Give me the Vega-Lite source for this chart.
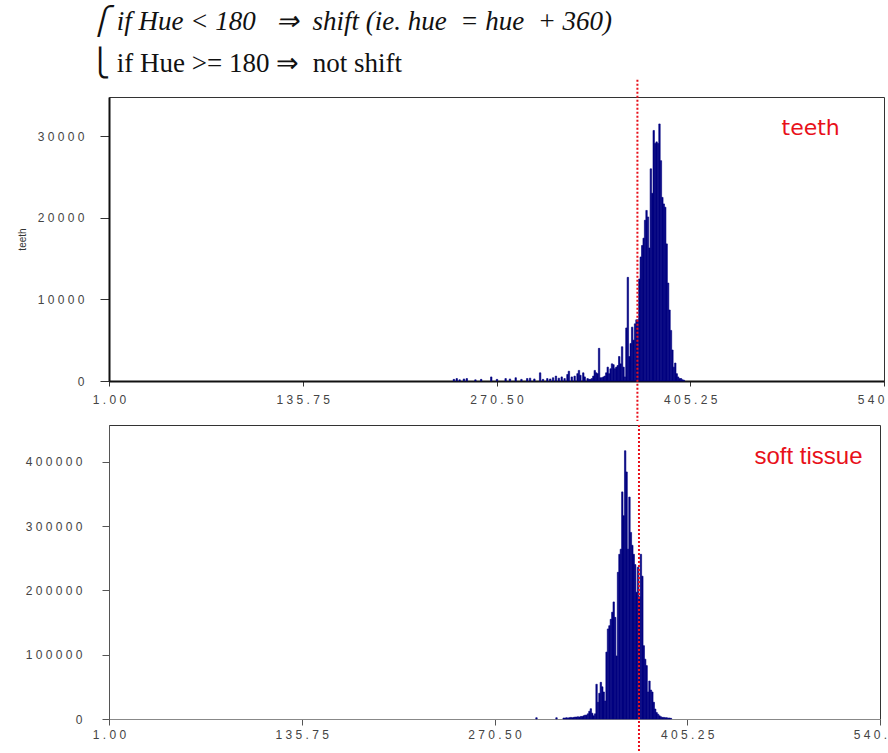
{
  "$schema": "https://vega.github.io/schema/vega-lite/v6.json",
  "padding": {"left": 16, "top": 8, "right": 0, "bottom": 0},
  "background": "white",
  "title": {
    "text": "⎧ if Hue < 180 \u00a0 ⇒ \u00a0shift (ie. hue \u00a0= hue \u00a0+ 360)",
    "subtitle": "⎩ if Hue >= 180 ⇒ \u00a0not shift",
    "font": "Liberation Serif",
    "fontSize": 27,
    "fontStyle": "italic",
    "fontWeight": "normal",
    "color": "#111",
    "subtitleFont": "Liberation Serif",
    "subtitleFontSize": 27,
    "subtitleColor": "#111",
    "subtitlePadding": 15,
    "anchor": "start",
    "frame": "group",
    "dx": -19,
    "offset": 0
  },
  "config": {
    "view": {"stroke": "#333", "strokeWidth": 1},
    "axis": {"grid": false, "labelFont": "Liberation Sans", "labelFontSize": 12, "labelColor": "#444", "labelOverlap": false, "labelBound": false, "labelFlush": false}
  },
  "spacing": 0,
  "datasets": {
    "teeth": [
      {"hue": 240, "count": 200}, {"hue": 242, "count": 300}, {"hue": 244, "count": 150}, {"hue": 247, "count": 250},
      {"hue": 249, "count": 300}, {"hue": 255, "count": 150}, {"hue": 259, "count": 200}, {"hue": 266, "count": 500},
      {"hue": 270, "count": 200}, {"hue": 276, "count": 300}, {"hue": 279, "count": 250}, {"hue": 283, "count": 400},
      {"hue": 287, "count": 200}, {"hue": 291, "count": 300}, {"hue": 293, "count": 350}, {"hue": 296, "count": 250},
      {"hue": 300, "count": 1000}, {"hue": 302, "count": 200}, {"hue": 305, "count": 300}, {"hue": 307, "count": 250},
      {"hue": 309, "count": 400}, {"hue": 311, "count": 600}, {"hue": 313, "count": 350}, {"hue": 315, "count": 500},
      {"hue": 317, "count": 300}, {"hue": 319, "count": 800}, {"hue": 320, "count": 1200}, {"hue": 322, "count": 500},
      {"hue": 324, "count": 600}, {"hue": 326, "count": 900}, {"hue": 327, "count": 1300}, {"hue": 328, "count": 700},
      {"hue": 330, "count": 1000}, {"hue": 331, "count": 500}, {"hue": 333, "count": 300}, {"hue": 334, "count": 200},
      {"hue": 335, "count": 200}, {"hue": 336, "count": 300}, {"hue": 337, "count": 600}, {"hue": 338, "count": 1300},
      {"hue": 339, "count": 1000}, {"hue": 340, "count": 900}, {"hue": 341, "count": 4000}, {"hue": 342, "count": 400},
      {"hue": 343, "count": 400}, {"hue": 344, "count": 500}, {"hue": 345, "count": 600}, {"hue": 346, "count": 1000},
      {"hue": 347, "count": 1700}, {"hue": 348, "count": 900}, {"hue": 349, "count": 1500}, {"hue": 350, "count": 2100},
      {"hue": 351, "count": 2000}, {"hue": 352, "count": 1500}, {"hue": 353, "count": 1700}, {"hue": 354, "count": 1900},
      {"hue": 355, "count": 3000}, {"hue": 356, "count": 2100}, {"hue": 357, "count": 4200}, {"hue": 358, "count": 1700},
      {"hue": 359, "count": 500}, {"hue": 360, "count": 6500}, {"hue": 361, "count": 12700}, {"hue": 362, "count": 3000},
      {"hue": 363, "count": 4600}, {"hue": 364, "count": 6600}, {"hue": 365, "count": 5000}, {"hue": 366, "count": 7000},
      {"hue": 367, "count": 7500}, {"hue": 368, "count": 7500}, {"hue": 369, "count": 12500}, {"hue": 370, "count": 15200},
      {"hue": 371, "count": 16600}, {"hue": 372, "count": 17500}, {"hue": 373, "count": 19700}, {"hue": 374, "count": 20900},
      {"hue": 375, "count": 20100}, {"hue": 376, "count": 16300}, {"hue": 377, "count": 26000}, {"hue": 378, "count": 23000},
      {"hue": 379, "count": 30700}, {"hue": 380, "count": 29100}, {"hue": 381, "count": 29300}, {"hue": 382, "count": 29100},
      {"hue": 383, "count": 31500}, {"hue": 384, "count": 27000}, {"hue": 385, "count": 22500}, {"hue": 386, "count": 21700},
      {"hue": 387, "count": 21300}, {"hue": 388, "count": 16800}, {"hue": 389, "count": 12000}, {"hue": 390, "count": 8700},
      {"hue": 391, "count": 6200}, {"hue": 392, "count": 3800}, {"hue": 393, "count": 1700}, {"hue": 394, "count": 2200},
      {"hue": 395, "count": 900}, {"hue": 396, "count": 500}, {"hue": 397, "count": 300}, {"hue": 398, "count": 300},
      {"hue": 399, "count": 150}, {"hue": 400, "count": 100}
    ],
    "soft": [
      {"hue": 299, "count": 2000}, {"hue": 313, "count": 2000}, {"hue": 318, "count": 1500}, {"hue": 319, "count": 1500},
      {"hue": 320, "count": 2000}, {"hue": 321, "count": 1500}, {"hue": 322, "count": 2000}, {"hue": 323, "count": 2500},
      {"hue": 324, "count": 2000}, {"hue": 325, "count": 2500}, {"hue": 326, "count": 3000}, {"hue": 327, "count": 3000},
      {"hue": 328, "count": 3500}, {"hue": 329, "count": 3000}, {"hue": 330, "count": 4000}, {"hue": 331, "count": 4000},
      {"hue": 332, "count": 5000}, {"hue": 333, "count": 6000}, {"hue": 334, "count": 6000}, {"hue": 335, "count": 8000},
      {"hue": 336, "count": 12000}, {"hue": 337, "count": 16000}, {"hue": 338, "count": 9000}, {"hue": 339, "count": 5000},
      {"hue": 340, "count": 8000}, {"hue": 341, "count": 54000}, {"hue": 342, "count": 26000}, {"hue": 343, "count": 40000},
      {"hue": 344, "count": 57000}, {"hue": 345, "count": 50000}, {"hue": 346, "count": 42000}, {"hue": 347, "count": 28000},
      {"hue": 348, "count": 104000}, {"hue": 349, "count": 140000}, {"hue": 350, "count": 145000}, {"hue": 351, "count": 155000},
      {"hue": 352, "count": 166000}, {"hue": 353, "count": 182000}, {"hue": 354, "count": 158000}, {"hue": 355, "count": 98000},
      {"hue": 356, "count": 228000}, {"hue": 357, "count": 256000}, {"hue": 358, "count": 264000}, {"hue": 359, "count": 353000},
      {"hue": 360, "count": 316000}, {"hue": 361, "count": 417000}, {"hue": 362, "count": 384000}, {"hue": 363, "count": 264000},
      {"hue": 364, "count": 345000}, {"hue": 365, "count": 290000}, {"hue": 366, "count": 270000}, {"hue": 367, "count": 256000},
      {"hue": 368, "count": 240000}, {"hue": 369, "count": 197000}, {"hue": 370, "count": 236000}, {"hue": 371, "count": 190000},
      {"hue": 372, "count": 256000}, {"hue": 373, "count": 222000}, {"hue": 374, "count": 114000}, {"hue": 375, "count": 93000},
      {"hue": 376, "count": 83000}, {"hue": 377, "count": 42000}, {"hue": 378, "count": 59000}, {"hue": 379, "count": 45000},
      {"hue": 380, "count": 42000}, {"hue": 381, "count": 26000}, {"hue": 382, "count": 15500}, {"hue": 383, "count": 10000},
      {"hue": 384, "count": 7500}, {"hue": 385, "count": 5000}, {"hue": 386, "count": 3500}, {"hue": 387, "count": 2500},
      {"hue": 388, "count": 2500}, {"hue": 389, "count": 2000}, {"hue": 390, "count": 2000}, {"hue": 391, "count": 1500},
      {"hue": 392, "count": 1500}, {"hue": 393, "count": 1000}
    ]
  },
  "vconcat": [
    {
      "width": 775,
      "height": 284,
      "layer": [
        {
          "data": {"name": "teeth"},
          "mark": {"type": "bar", "color": "#000080", "stroke": "#000080", "strokeWidth": 0.6, "binSpacing": 0},
          "encoding": {
            "x": {"field": "hue", "type": "quantitative", "bin": {"binned": true, "step": 1},
              "scale": {"domain": [1, 540], "nice": false, "zero": false},
              "axis": {"title": null, "values": [1, 135.75, 270.5, 405.25, 540], "format": ".2f",
                "labelExpr": "join(split(datum.label, ''), ' ')",
                "domainColor": "#111", "domainWidth": 2, "tickColor": "#333", "tickSize": 5, "labelPadding": 8}},
            "y": {"field": "count", "type": "quantitative",
              "scale": {"domain": [0, 34800], "nice": false},
              "axis": {"title": "teeth", "titleFont": "Liberation Sans", "titleFontSize": 10, "titleFontWeight": "normal", "titleColor": "#333", "titlePadding": 10,
                "values": [0, 10000, 20000, 30000], "format": "d",
                "labelExpr": "join(split(datum.label, ''), ' ')",
                "domainColor": "#111", "domainWidth": 2, "tickColor": "#333", "tickSize": 9, "labelPadding": 16}}
          }
        },
        {
          "data": {"values": [{}]},
          "mark": {"type": "rule", "color": "#e8101a", "strokeWidth": 2, "strokeDash": [2, 2]},
          "encoding": {"x": {"datum": 368.5}, "y": {"datum": 36900}, "y2": {"datum": -4900}}
        },
        {
          "data": {"values": [{"label": "teeth"}]},
          "mark": {"type": "text", "font": "DejaVu Sans", "fontSize": 22, "color": "#e8101a", "align": "center", "baseline": "middle"},
          "encoding": {"x": {"datum": 489}, "y": {"datum": 31000}, "text": {"field": "label"}}
        }
      ]
    },
    {
      "width": 771,
      "height": 294,
      "layer": [
        {
          "data": {"name": "soft"},
          "mark": {"type": "bar", "color": "#000080", "stroke": "#000080", "strokeWidth": 0.6, "binSpacing": 0},
          "encoding": {
            "x": {"field": "hue", "type": "quantitative", "bin": {"binned": true, "step": 1},
              "scale": {"domain": [1, 540], "nice": false, "zero": false},
              "axis": {"title": null, "values": [1, 135.75, 270.5, 405.25, 540], "format": ".2f",
                "labelExpr": "join(split(datum.label, ''), ' ')",
                "domainColor": "#888", "domainWidth": 1, "tickColor": "#555", "tickSize": 6, "labelPadding": 4}},
            "y": {"field": "count", "type": "quantitative",
              "scale": {"domain": [0, 457000], "nice": false},
              "axis": {"title": null,
                "values": [0, 100000, 200000, 300000, 400000], "format": "d",
                "labelExpr": "join(split(datum.label, ''), ' ')",
                "domainColor": "#555", "domainWidth": 1, "tickColor": "#555", "tickSize": 7, "labelPadding": 20}}
          }
        },
        {
          "data": {"values": [{}]},
          "mark": {"type": "rule", "color": "#e8101a", "strokeWidth": 2, "strokeDash": [2, 2]},
          "encoding": {"x": {"datum": 371.5}, "y": {"datum": 457000}, "y2": {"datum": -53000}}
        },
        {
          "data": {"values": [{"label": "soft tissue"}]},
          "mark": {"type": "text", "font": "Liberation Sans", "fontSize": 24, "color": "#e8101a", "align": "center", "baseline": "middle"},
          "encoding": {"x": {"datum": 490}, "y": {"datum": 407000}, "text": {"field": "label"}}
        }
      ]
    }
  ]
}
